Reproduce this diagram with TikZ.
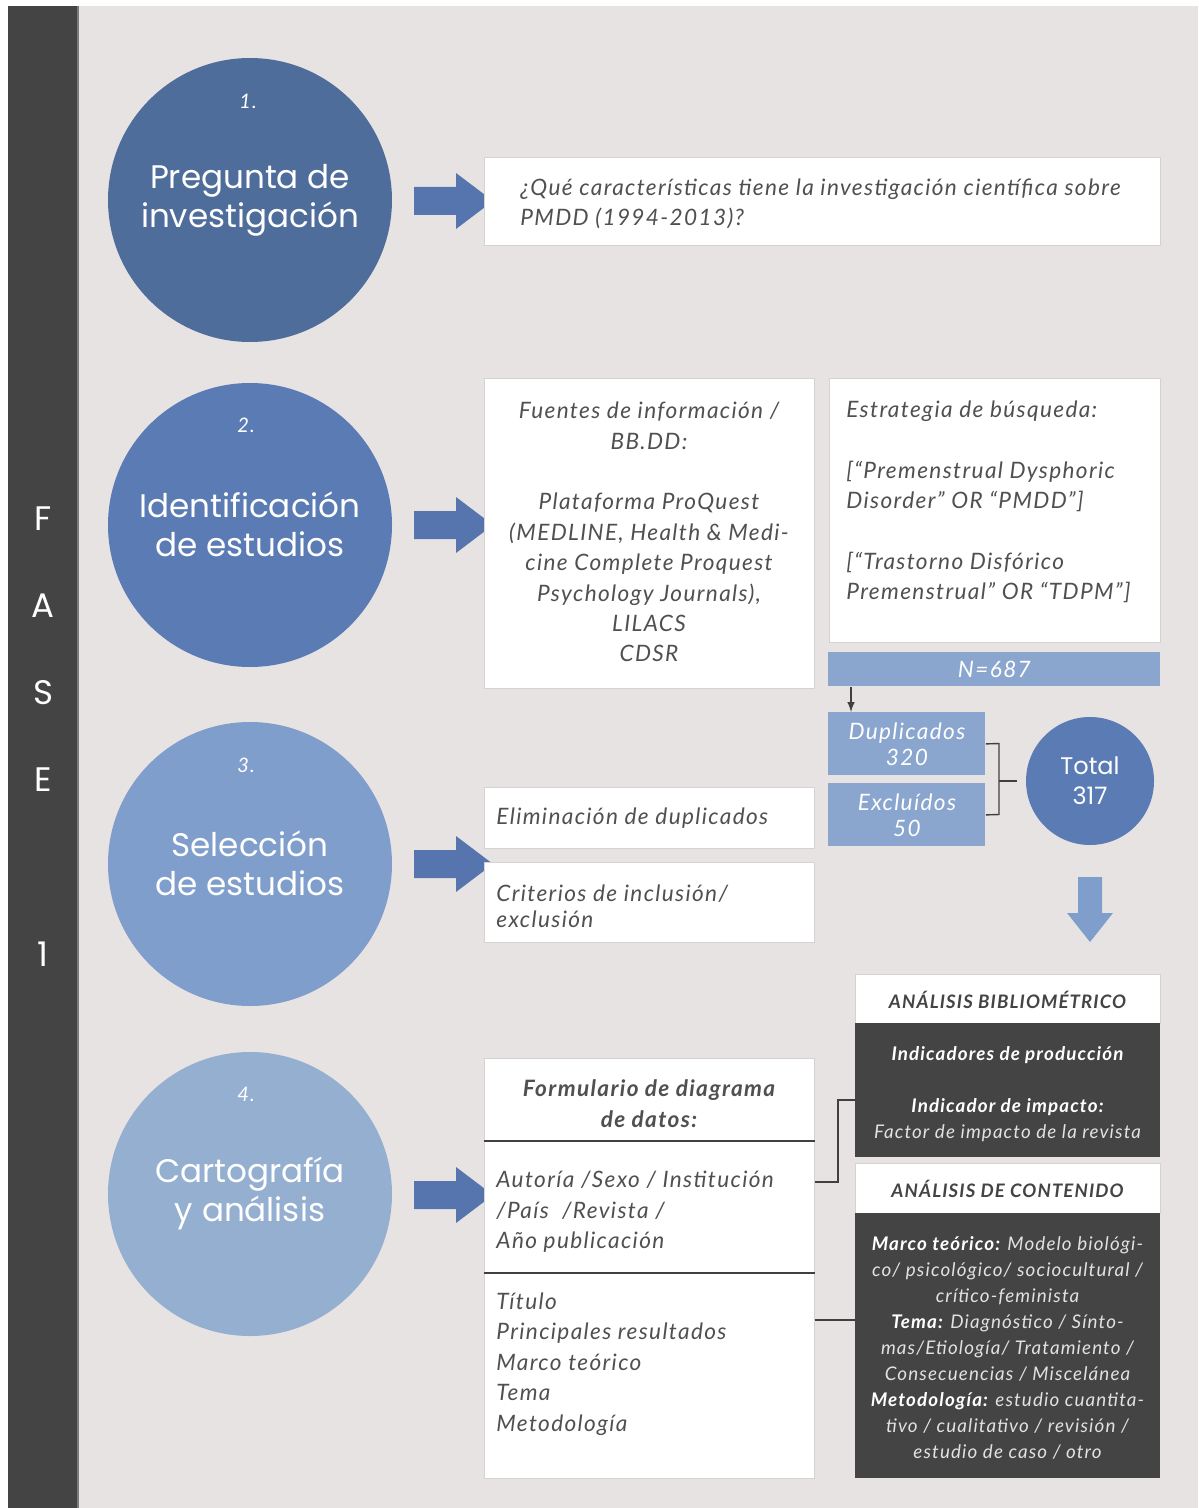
\documentclass[tikz,border=0pt]{standalone}
\usepackage{fontspec}
\setmainfont{Lato}[LetterSpace=6]
\newfontfamily\geofont{Poppins}
\usetikzlibrary{calc}

\definecolor{bg}{HTML}{E8E3E3}
\definecolor{bar}{HTML}{444444}
\definecolor{barline}{HTML}{7A7A7A}
\definecolor{circA}{HTML}{4F6D9B}
\definecolor{circB}{HTML}{5B7BB4}
\definecolor{circC}{HTML}{809ECB}
\definecolor{circD}{HTML}{95AFD0}
\definecolor{arrowblue}{HTML}{5675AE}
\definecolor{downblue}{HTML}{809ECB}
\definecolor{lightblue}{HTML}{8AA6CF}
\definecolor{totalblue}{HTML}{5B7BB5}
\definecolor{ink}{HTML}{505050}
\definecolor{darkbox}{HTML}{444444}
\definecolor{paleink}{HTML}{E2E2E2}
\definecolor{boxedge}{HTML}{D6D2D2}

\begin{document}
\begin{tikzpicture}[x=0.5pt,y=-0.5pt,
  wbox/.style={draw=boxedge, line width=0.3pt, fill=white, inner sep=0pt, anchor=north west},
  dbox/.style={fill=darkbox, inner sep=0pt, anchor=north west},
  bbox/.style={fill=lightblue, inner sep=0pt, anchor=north west, text=white,
    font=\fontsize{11.3}{13}\selectfont\itshape, align=center},
  txt/.style={font=\fontsize{11.3}{15.2}\selectfont\itshape, text=ink, inner sep=0pt},
  htxt/.style={font=\fontsize{9.3}{11}\selectfont\bfseries\itshape, text=ink!85!black, inner sep=0pt},
  dtxt/.style={font=\fontsize{9.4}{13}\selectfont\itshape, text=paleink, align=center, inner sep=0pt},
  circ/.style={circle, minimum size=142pt, inner sep=0pt},
  numtxt/.style={font=\fontsize{10}{12}\selectfont\itshape, text=white, inner sep=0pt},
  ttl/.style={font=\geofont\fontsize{16.3}{19.5}\selectfont, text=white, align=center, inner sep=0pt},
  fase/.style={font=\geofont\fontsize{17}{17}\selectfont, text=white, inner sep=0pt},
  link/.style={draw=ink!80!black, line width=0.7pt},
  barrow/.pic={\fill[arrowblue] (-39.5,-14) -- (2.5,-14) -- (2.5,-28) -- (39.5,0)
     -- (2.5,28) -- (2.5,14) -- (-39.5,14) -- cycle;}
]
\useasboundingbox (0,0) rectangle (1198,1508);

% page, side band
\fill[white] (0,0) rectangle (1198,1508);
\fill[bg] (8,6) rectangle (1198,1508);
\fill[bar] (8,6) rectangle (77,1508);
\fill[barline] (77,6) rectangle (79,1508);

\node[fase] (fF) at (43,519) {F};
\node[fase] (fA) at (43,606) {A};
\node[fase] (fS) at (43,693) {S};
\node[fase] (fE) at (43,780) {E};
\node[fase] (f1) at (43,954) {1};

% phase circles
\node[circ, fill=circA] (s1) at (250,200) {};
\node[circ, fill=circB] (s2) at (250,525) {};
\node[circ, fill=circC] (s3) at (250,864) {};
\node[circ, fill=circD] (s4) at (250,1194) {};

\node[numtxt] (n1) at (248,101) {1.};
\node[numtxt] (n2) at (246,425) {2.};
\node[numtxt] (n3) at (246,765) {3.};
\node[numtxt] (n4) at (246,1094) {4.};

\node[ttl] (t1) at (250,200) {Pregunta de\\investigación};
\node[ttl] (t2) at (250,524) {Identificación\\de estudios};
\node[ttl] (t3) at (250,863) {Selección\\de estudios};
\node[ttl] (t4) at (250,1193) {Cartografía\\y análisis};

% block arrows
\pic at (453.5,201) {barrow};
\pic at (453.5,525) {barrow};
\pic at (453.5,864) {barrow};
\pic at (453.5,1195) {barrow};

% 1. question
\node[wbox, minimum width=338pt, minimum height=44pt] (q) at (484,157) {};
\node[txt, anchor=west, align=left] (qt) at (520,204)
  {¿Qué características tiene la investigación científica sobre\\PMDD (1994-2013)?};

% 2. sources and search strategy
\node[wbox, minimum width=165pt, minimum height=155pt] (src) at (484,378) {};
\node[txt, align=center] (srct) at (649,532)
  {Fuentes de información /\\BB.DD:\\[15.2pt]Plataforma ProQuest\\(MEDLINE, Health \& Medi-\\cine Complete Proquest\\Psychology Journals),\\LILACS\\CDSR};

\node[wbox, minimum width=165.5pt, minimum height=132pt] (str) at (829,378) {};
\node[txt, anchor=west, align=left] (strt) at (846,502)
  {Estrategia de búsqueda:\\[15.2pt][“Premenstrual Dysphoric\\Disorder” OR “PMDD”]\\[15.2pt][“Trastorno Disfórico\\Premenstrual” OR “TDPM”]};

\node[bbox, minimum width=166pt, minimum height=17pt] (N) at (828,652) {N=687};
\node[bbox, minimum width=78.5pt, minimum height=31.5pt] (dup) at (828,712) {Duplicados\\320};
\node[bbox, minimum width=78.5pt, minimum height=31.5pt] (exc) at (828,783) {Excluídos\\50};
\node[circle, fill=totalblue, minimum size=64pt, inner sep=0pt, text=white, align=center,
  font=\geofont\fontsize{12}{15}\selectfont] (total) at (1090,781) {Total\\317};

\draw[link, -{latex}] (851,0 |- N.south) -- (851,0 |- dup.north);
\draw[link] (dup.east) -- (999,743.5) -- (999,814.5) -- (exc.east);
\draw[link] (999,781) -- ([xshift=-4.5pt]total.west);

% 3. selection
\node[wbox, minimum width=165pt, minimum height=30.5pt] (elim) at (484,787) {};
\node[txt, anchor=west] (elimt) at (496,818) {Eliminación de duplicados};
\node[wbox, minimum width=165pt, minimum height=40pt] (crit) at (484,862) {};
\node[txt, anchor=west, align=left, font=\fontsize{11.3}{13}\selectfont\itshape] (critt) at (496,906)
  {Criterios de inclusión/\\exclusión};

\fill[downblue] (1078,877) -- (1102,877) -- (1102,913) -- (1113,913) -- (1090,942)
  -- (1067,913) -- (1078,913) -- cycle;

% 4. data form
\node[wbox, minimum width=165pt, minimum height=210pt] (form) at (484,1058) {};
\node[txt, align=center, font=\fontsize{11.3}{15.5}\selectfont\bfseries\itshape] (formh) at (649,1104)
  {Formulario de diagrama\\de datos:};
\draw[link] (form.west |- 0,1141) -- (form.east |- 0,1141);
\node[txt, anchor=west, align=left] (forma) at (496,1212)
  {Autoría /Sexo / Institución\\/País \ /Revista /\\Año publicación};
\draw[link] (form.west |- 0,1273) -- (form.east |- 0,1273);
\node[txt, anchor=west, align=left] (formb) at (496,1364)
  {Título\\Principales resultados\\Marco teórico\\Tema\\Metodología};

% analyses
\node[wbox, minimum width=152.5pt, minimum height=24.5pt] (bibh) at (855,974) {};
\node[htxt] (bibht) at (1007.5,1000) {ANÁLISIS BIBLIOMÉTRICO};
\node[dbox, minimum width=152.5pt, minimum height=67pt] (bib) at (855,1023) {};
\node[dtxt] (bibt) at (1007.5,1094)
  {\textbf{\color{white}Indicadores de producción}\\[13pt]\textbf{\color{white}Indicador de impacto:}\\Factor de impacto de la revista};

\node[wbox, minimum width=152.5pt, minimum height=25pt] (conh) at (855,1163) {};
\node[htxt] (conht) at (1007.5,1189) {ANÁLISIS DE CONTENIDO};
\node[dbox, minimum width=152.5pt, minimum height=132.5pt] (con) at (855,1213) {};
\node[dtxt] (cont) at (1007.5,1348)
  {\textbf{\color{white}Marco teórico:} Modelo biológi-\\co/ psicológico/ sociocultural /\\crítico-feminista\\\textbf{\color{white}Tema:} Diagnóstico / Sínto-\\mas/Etiología/ Tratamiento /\\Consecuencias / Miscelánea\\\textbf{\color{white}Metodología:} estudio cuantita-\\tivo / cualitativo / revisión /\\estudio de caso / otro};

\draw[link] (form.east |- 0,1182) -- (838,1182) -- (838,1100) -- (bib.west |- 0,1100);
\draw[link] (form.east |- 0,1320) -- (con.west |- 0,1320);

\end{tikzpicture}
\end{document}
